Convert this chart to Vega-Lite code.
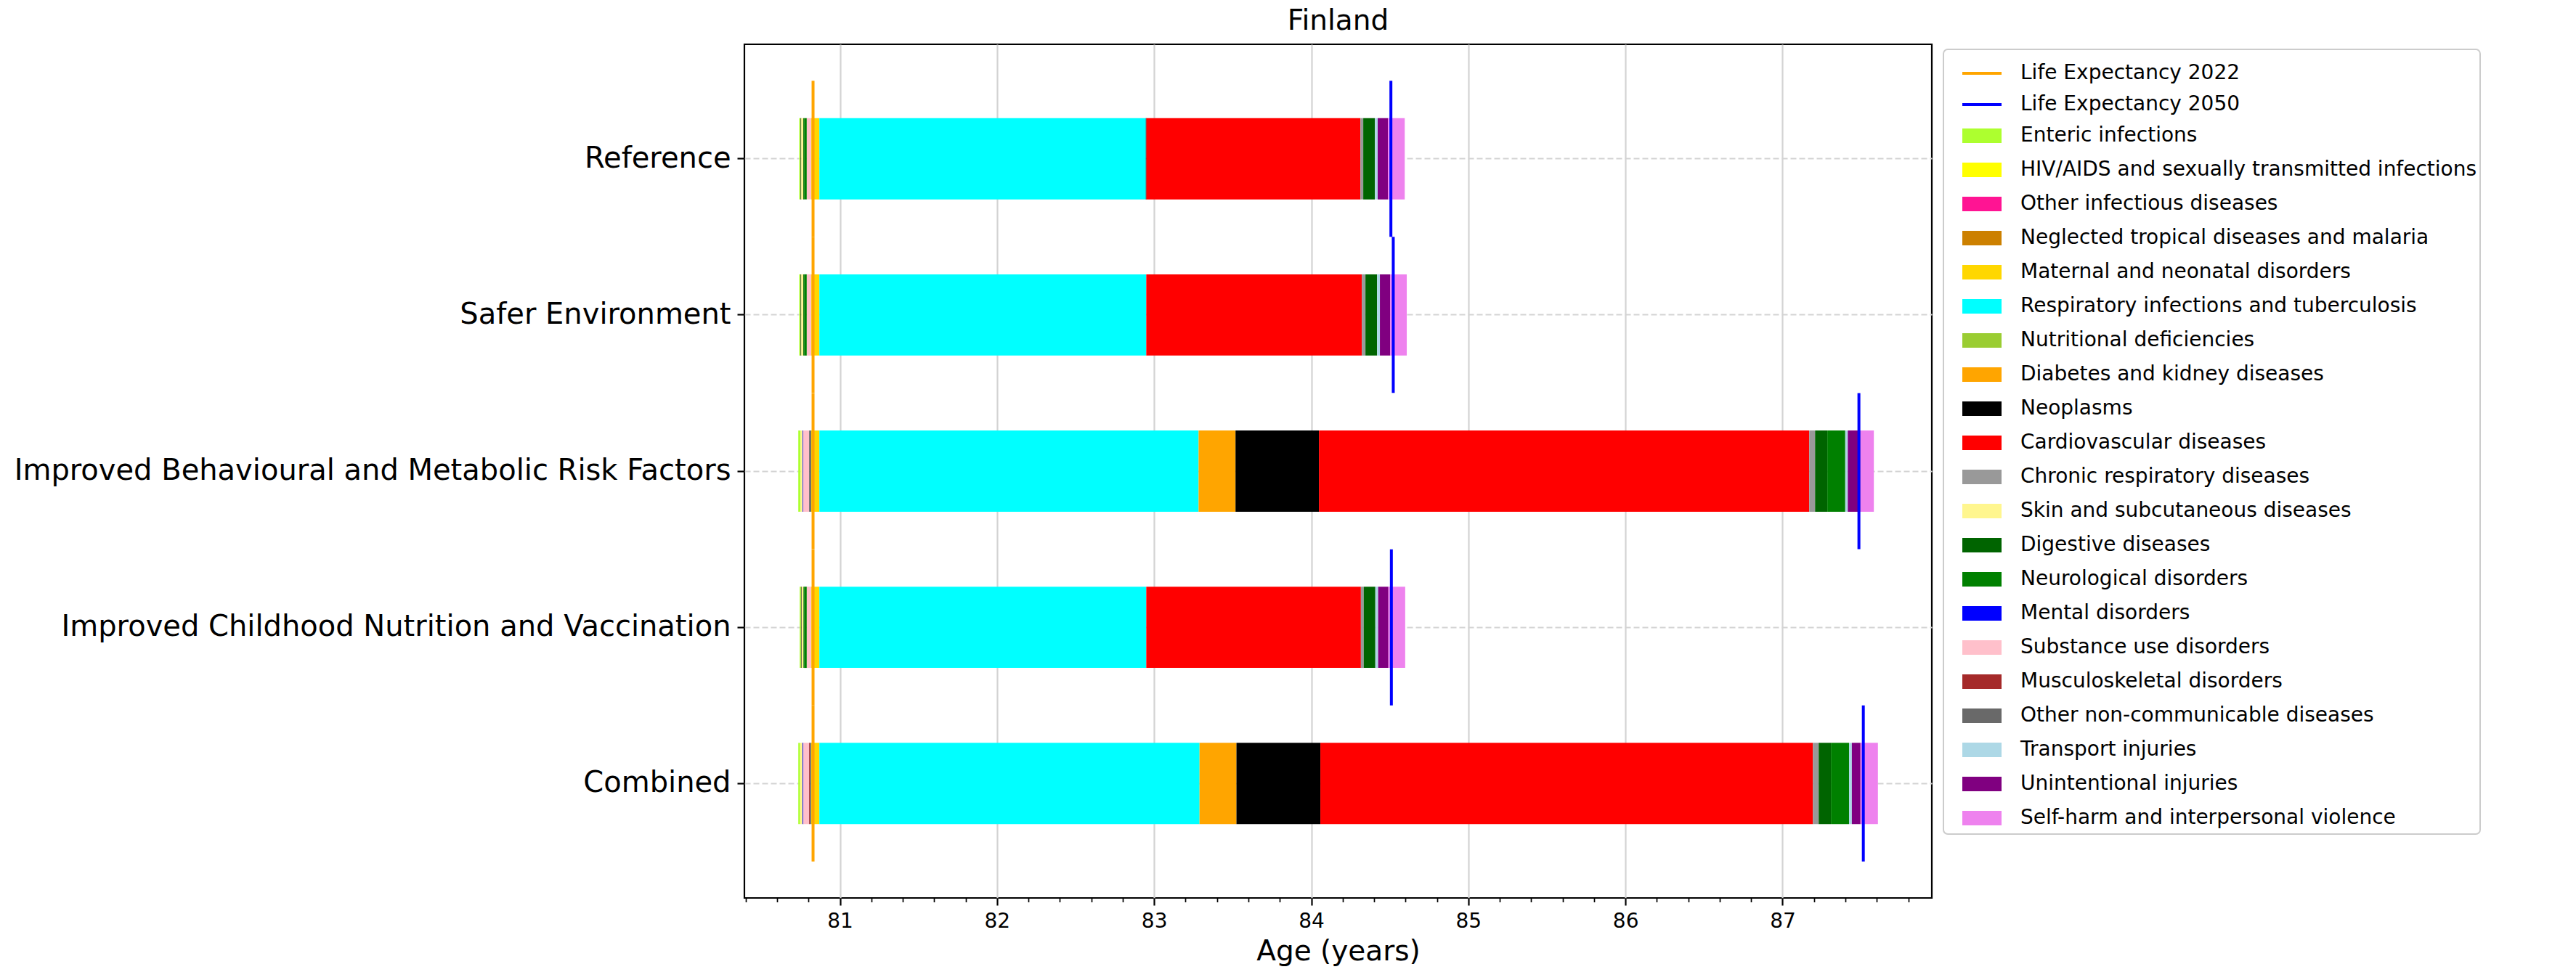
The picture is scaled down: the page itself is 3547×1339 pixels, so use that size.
{
  "$schema": "https://vega.github.io/schema/vega-lite/v6.json",
  "autosize": {"type": "none"},
  "width": 1635,
  "height": 1176,
  "padding": {"left": 1025, "top": 61, "right": 887, "bottom": 102},
  "background": "white",
  "config": {
    "font": "DejaVu Sans",
    "view": {"stroke": "black", "strokeWidth": 2.2},
    "axis": {"labelFont": "DejaVu Sans", "titleFont": "DejaVu Sans"}
  },
  "title": {"text": "Finland", "fontSize": 39, "font": "DejaVu Sans", "fontWeight": "normal", "color": "black", "offset": 12, "anchor": "middle"},
  "resolve": {"axis": {"x": "independent"}},
  "datasets": {
    "segments": [
      {"scenario": "Reference", "cause": "Enteric infections", "start": 80.741, "end": 80.750},
      {"scenario": "Reference", "cause": "Neoplasms", "start": 80.750, "end": 80.754},
      {"scenario": "Reference", "cause": "Skin and subcutaneous diseases", "start": 80.754, "end": 80.767},
      {"scenario": "Reference", "cause": "Digestive diseases", "start": 80.767, "end": 80.772},
      {"scenario": "Reference", "cause": "Neurological disorders", "start": 80.772, "end": 80.789},
      {"scenario": "Reference", "cause": "Substance use disorders", "start": 80.789, "end": 80.818},
      {"scenario": "Reference", "cause": "Maternal and neonatal disorders", "start": 80.818, "end": 80.869},
      {"scenario": "Reference", "cause": "Respiratory infections and tuberculosis", "start": 80.869, "end": 82.947},
      {"scenario": "Reference", "cause": "Neoplasms", "start": 82.947, "end": 82.951},
      {"scenario": "Reference", "cause": "Cardiovascular diseases", "start": 82.951, "end": 84.313},
      {"scenario": "Reference", "cause": "Chronic respiratory diseases", "start": 84.313, "end": 84.331},
      {"scenario": "Reference", "cause": "Digestive diseases", "start": 84.331, "end": 84.405},
      {"scenario": "Reference", "cause": "Transport injuries", "start": 84.405, "end": 84.423},
      {"scenario": "Reference", "cause": "Unintentional injuries", "start": 84.423, "end": 84.488},
      {"scenario": "Reference", "cause": "Self-harm and interpersonal violence", "start": 84.488, "end": 84.595},

      {"scenario": "Safer Environment", "cause": "Enteric infections", "start": 80.741, "end": 80.750},
      {"scenario": "Safer Environment", "cause": "Neoplasms", "start": 80.750, "end": 80.754},
      {"scenario": "Safer Environment", "cause": "Skin and subcutaneous diseases", "start": 80.754, "end": 80.767},
      {"scenario": "Safer Environment", "cause": "Digestive diseases", "start": 80.767, "end": 80.772},
      {"scenario": "Safer Environment", "cause": "Neurological disorders", "start": 80.772, "end": 80.789},
      {"scenario": "Safer Environment", "cause": "Substance use disorders", "start": 80.789, "end": 80.818},
      {"scenario": "Safer Environment", "cause": "Maternal and neonatal disorders", "start": 80.818, "end": 80.869},
      {"scenario": "Safer Environment", "cause": "Respiratory infections and tuberculosis", "start": 80.869, "end": 82.950},
      {"scenario": "Safer Environment", "cause": "Cardiovascular diseases", "start": 82.950, "end": 84.322},
      {"scenario": "Safer Environment", "cause": "Chronic respiratory diseases", "start": 84.322, "end": 84.345},
      {"scenario": "Safer Environment", "cause": "Digestive diseases", "start": 84.345, "end": 84.419},
      {"scenario": "Safer Environment", "cause": "Transport injuries", "start": 84.419, "end": 84.437},
      {"scenario": "Safer Environment", "cause": "Unintentional injuries", "start": 84.437, "end": 84.502},
      {"scenario": "Safer Environment", "cause": "Self-harm and interpersonal violence", "start": 84.502, "end": 84.608},

      {"scenario": "Improved Behavioural and Metabolic Risk Factors", "cause": "Enteric infections", "start": 80.735, "end": 80.750},
      {"scenario": "Improved Behavioural and Metabolic Risk Factors", "cause": "Skin and subcutaneous diseases", "start": 80.750, "end": 80.762},
      {"scenario": "Improved Behavioural and Metabolic Risk Factors", "cause": "Mental disorders", "start": 80.762, "end": 80.766},
      {"scenario": "Improved Behavioural and Metabolic Risk Factors", "cause": "Substance use disorders", "start": 80.766, "end": 80.804},
      {"scenario": "Improved Behavioural and Metabolic Risk Factors", "cause": "Other non-communicable diseases", "start": 80.804, "end": 80.817},
      {"scenario": "Improved Behavioural and Metabolic Risk Factors", "cause": "Maternal and neonatal disorders", "start": 80.817, "end": 80.869},
      {"scenario": "Improved Behavioural and Metabolic Risk Factors", "cause": "Respiratory infections and tuberculosis", "start": 80.869, "end": 83.283},
      {"scenario": "Improved Behavioural and Metabolic Risk Factors", "cause": "Diabetes and kidney diseases", "start": 83.283, "end": 83.518},
      {"scenario": "Improved Behavioural and Metabolic Risk Factors", "cause": "Neoplasms", "start": 83.518, "end": 84.049},
      {"scenario": "Improved Behavioural and Metabolic Risk Factors", "cause": "Cardiovascular diseases", "start": 84.049, "end": 87.170},
      {"scenario": "Improved Behavioural and Metabolic Risk Factors", "cause": "Chronic respiratory diseases", "start": 87.170, "end": 87.207},
      {"scenario": "Improved Behavioural and Metabolic Risk Factors", "cause": "Digestive diseases", "start": 87.207, "end": 87.285},
      {"scenario": "Improved Behavioural and Metabolic Risk Factors", "cause": "Neurological disorders", "start": 87.285, "end": 87.399},
      {"scenario": "Improved Behavioural and Metabolic Risk Factors", "cause": "Transport injuries", "start": 87.399, "end": 87.415},
      {"scenario": "Improved Behavioural and Metabolic Risk Factors", "cause": "Unintentional injuries", "start": 87.415, "end": 87.495},
      {"scenario": "Improved Behavioural and Metabolic Risk Factors", "cause": "Self-harm and interpersonal violence", "start": 87.495, "end": 87.581},

      {"scenario": "Improved Childhood Nutrition and Vaccination", "cause": "Enteric infections", "start": 80.744, "end": 80.752},
      {"scenario": "Improved Childhood Nutrition and Vaccination", "cause": "Neoplasms", "start": 80.752, "end": 80.756},
      {"scenario": "Improved Childhood Nutrition and Vaccination", "cause": "Skin and subcutaneous diseases", "start": 80.756, "end": 80.768},
      {"scenario": "Improved Childhood Nutrition and Vaccination", "cause": "Digestive diseases", "start": 80.768, "end": 80.772},
      {"scenario": "Improved Childhood Nutrition and Vaccination", "cause": "Neurological disorders", "start": 80.772, "end": 80.789},
      {"scenario": "Improved Childhood Nutrition and Vaccination", "cause": "Substance use disorders", "start": 80.789, "end": 80.818},
      {"scenario": "Improved Childhood Nutrition and Vaccination", "cause": "Maternal and neonatal disorders", "start": 80.818, "end": 80.869},
      {"scenario": "Improved Childhood Nutrition and Vaccination", "cause": "Respiratory infections and tuberculosis", "start": 80.869, "end": 82.950},
      {"scenario": "Improved Childhood Nutrition and Vaccination", "cause": "Cardiovascular diseases", "start": 82.950, "end": 84.316},
      {"scenario": "Improved Childhood Nutrition and Vaccination", "cause": "Chronic respiratory diseases", "start": 84.316, "end": 84.334},
      {"scenario": "Improved Childhood Nutrition and Vaccination", "cause": "Digestive diseases", "start": 84.334, "end": 84.408},
      {"scenario": "Improved Childhood Nutrition and Vaccination", "cause": "Transport injuries", "start": 84.408, "end": 84.426},
      {"scenario": "Improved Childhood Nutrition and Vaccination", "cause": "Unintentional injuries", "start": 84.426, "end": 84.491},
      {"scenario": "Improved Childhood Nutrition and Vaccination", "cause": "Self-harm and interpersonal violence", "start": 84.491, "end": 84.598},

      {"scenario": "Combined", "cause": "Enteric infections", "start": 80.735, "end": 80.747},
      {"scenario": "Combined", "cause": "Skin and subcutaneous diseases", "start": 80.747, "end": 80.762},
      {"scenario": "Combined", "cause": "Mental disorders", "start": 80.762, "end": 80.767},
      {"scenario": "Combined", "cause": "Substance use disorders", "start": 80.767, "end": 80.804},
      {"scenario": "Combined", "cause": "Musculoskeletal disorders", "start": 80.804, "end": 80.809},
      {"scenario": "Combined", "cause": "Other non-communicable diseases", "start": 80.809, "end": 80.817},
      {"scenario": "Combined", "cause": "Maternal and neonatal disorders", "start": 80.817, "end": 80.869},
      {"scenario": "Combined", "cause": "Respiratory infections and tuberculosis", "start": 80.869, "end": 83.289},
      {"scenario": "Combined", "cause": "Diabetes and kidney diseases", "start": 83.289, "end": 83.524},
      {"scenario": "Combined", "cause": "Neoplasms", "start": 83.524, "end": 84.058},
      {"scenario": "Combined", "cause": "Cardiovascular diseases", "start": 84.058, "end": 87.193},
      {"scenario": "Combined", "cause": "Chronic respiratory diseases", "start": 87.193, "end": 87.230},
      {"scenario": "Combined", "cause": "Digestive diseases", "start": 87.230, "end": 87.308},
      {"scenario": "Combined", "cause": "Neurological disorders", "start": 87.308, "end": 87.423},
      {"scenario": "Combined", "cause": "Transport injuries", "start": 87.423, "end": 87.441},
      {"scenario": "Combined", "cause": "Unintentional injuries", "start": 87.441, "end": 87.496},
      {"scenario": "Combined", "cause": "Self-harm and interpersonal violence", "start": 87.496, "end": 87.607}
    ],
    "lines": [
      {"scenario": "Reference", "series": "Life Expectancy 2022", "age": 80.829},
      {"scenario": "Safer Environment", "series": "Life Expectancy 2022", "age": 80.829},
      {"scenario": "Improved Behavioural and Metabolic Risk Factors", "series": "Life Expectancy 2022", "age": 80.829},
      {"scenario": "Improved Childhood Nutrition and Vaccination", "series": "Life Expectancy 2022", "age": 80.829},
      {"scenario": "Combined", "series": "Life Expectancy 2022", "age": 80.829},
      {"scenario": "Reference", "series": "Life Expectancy 2050", "age": 84.507},
      {"scenario": "Safer Environment", "series": "Life Expectancy 2050", "age": 84.522},
      {"scenario": "Improved Behavioural and Metabolic Risk Factors", "series": "Life Expectancy 2050", "age": 87.486},
      {"scenario": "Improved Childhood Nutrition and Vaccination", "series": "Life Expectancy 2050", "age": 84.510},
      {"scenario": "Combined", "series": "Life Expectancy 2050", "age": 87.514}
    ]
  },
  "layer": [
    {
      "data": {"name": "segments"},
      "mark": {"type": "bar"},
      "encoding": {
        "y": {
          "field": "scenario", "type": "nominal",
          "sort": ["Reference", "Safer Environment", "Improved Behavioural and Metabolic Risk Factors", "Improved Childhood Nutrition and Vaccination", "Combined"],
          "scale": {"paddingInner": 0.48, "paddingOuter": 0.473},
          "axis": {
            "title": null, "bandPosition": 0.5, "domain": false,
            "labelFontSize": 40, "labelColor": "black", "labelPadding": 9, "labelLimit": 2000,
            "tickSize": 10, "tickWidth": 2.2, "tickColor": "black",
            "grid": true, "gridColor": "#d3d3d3", "gridWidth": 2.2, "gridDash": [8, 4]
          }
        },
        "x": {
          "field": "start", "type": "quantitative",
          "scale": {"domain": [80.392, 87.95], "nice": false, "zero": false},
          "axis": {
            "orient": "bottom",
            "values": [81, 82, 83, 84, 85, 86, 87], "format": "d",
            "title": "Age (years)", "titleFontSize": 39, "titleFontWeight": "normal", "titleColor": "black", "titlePadding": 8,
            "labelFontSize": 28, "labelColor": "black", "labelPadding": 8,
            "tickSize": 10, "tickWidth": 2.2, "tickColor": "black", "domain": false,
            "grid": true, "gridColor": "#d3d3d3", "gridWidth": 2.2
          }
        },
        "x2": {"field": "end"},
        "color": {
          "field": "cause", "type": "nominal",
          "scale": {
            "domain": ["Life Expectancy 2022", "Life Expectancy 2050", "Enteric infections", "HIV/AIDS and sexually transmitted infections", "Other infectious diseases", "Neglected tropical diseases and malaria", "Maternal and neonatal disorders", "Respiratory infections and tuberculosis", "Nutritional deficiencies", "Diabetes and kidney diseases", "Neoplasms", "Cardiovascular diseases", "Chronic respiratory diseases", "Skin and subcutaneous diseases", "Digestive diseases", "Neurological disorders", "Mental disorders", "Substance use disorders", "Musculoskeletal disorders", "Other non-communicable diseases", "Transport injuries", "Unintentional injuries", "Self-harm and interpersonal violence"],
            "range": ["#FFA500", "#0000FF", "#ADFF2F", "#FFFF00", "#FF1493", "#CC8000", "#FFD700", "#00FFFF", "#9ACD32", "#FFA500", "#000000", "#FF0000", "#999999", "#FFF68F", "#006400", "#008000", "#0000FF", "#FFC0CB", "#A52A2A", "#696969", "#ADD8E6", "#800080", "#EE82EE"]
          },
          "legend": {
            "title": null, "orient": "none", "legendX": 1651, "legendY": 7,
            "labelFont": "DejaVu Sans", "labelFontSize": 28, "labelLimit": 2000, "labelColor": "black", "labelOffset": 24,
            "symbolType": "M-1,-0.37H1V0.37H-1Z", "symbolSize": 2916, "symbolOffset": 20,
            "rowPadding": 0, "padding": 4,
            "strokeColor": "#cccccc", "fillColor": "white", "cornerRadius": 6,
            "encode": {
              "legend": {"update": {"strokeWidth": {"value": 2}}},
              "symbols": {
                "update": {
                  "shape": [{"test": "indexof(datum.value,'Life Expectancy')===0", "value": "M-1,0H1"}, {"value": "M-1,-0.37H1V0.37H-1Z"}],
                  "fill": [{"test": "indexof(datum.value,'Life Expectancy')===0", "value": "transparent"}, {"scale": "color", "field": "value"}],
                  "stroke": [{"test": "indexof(datum.value,'Life Expectancy')===0", "scale": "color", "field": "value"}, {"value": "transparent"}],
                  "strokeWidth": {"value": 4},
                  "opacity": {"value": 1}
                }
              }
            }
          }
        }
      }
    },
    {
      "data": {"name": "lines"},
      "mark": {"type": "tick", "thickness": 4, "size": 215, "opacity": 1},
      "encoding": {
        "y": {
          "field": "scenario", "type": "nominal",
          "sort": ["Reference", "Safer Environment", "Improved Behavioural and Metabolic Risk Factors", "Improved Childhood Nutrition and Vaccination", "Combined"]
        },
        "x": {
          "field": "age", "type": "quantitative",
          "axis": {
            "orient": "bottom",
            "values": [80.4, 80.6, 80.8, 81.2, 81.4, 81.6, 81.8, 82.2, 82.4, 82.6, 82.8, 83.2, 83.4, 83.6, 83.8, 84.2, 84.4, 84.6, 84.8, 85.2, 85.4, 85.6, 85.8, 86.2, 86.4, 86.6, 86.8, 87.2, 87.4, 87.6, 87.8],
            "labels": false, "title": null, "grid": false, "domain": false,
            "tickSize": 5.5, "tickWidth": 1.7, "tickColor": "black"
          }
        },
        "color": {"field": "series", "type": "nominal"}
      }
    }
  ]
}
